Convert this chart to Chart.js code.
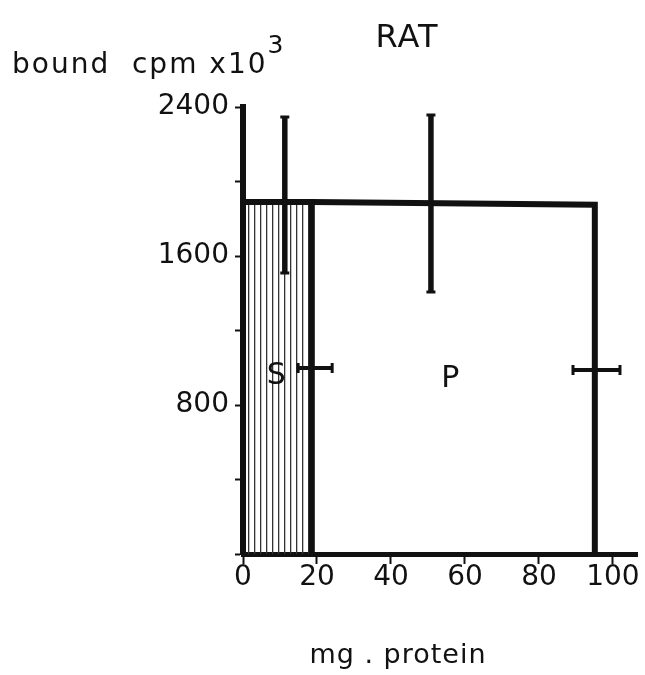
<!DOCTYPE html>
<html>
<head>
<meta charset="utf-8">
<script src="https://cdn.jsdelivr.net/npm/chart.js@4.4.1/dist/chart.umd.min.js"></script>
<style>
  html, body { margin: 0; padding: 0; background: #fff; }
  #chart { display: block; }
</style>
</head>
<body>
<canvas id="chart" width="645" height="675"></canvas>
<script>
// ── Data ──
const xTicks = [0, 20, 40, 60, 80, 100];
const yTicks = [0, 400, 800, 1200, 1600, 2000, 2400];
const yTickLabels = ['', '', '800', '', '1600', '', '2400'];

// fractions (rectangles): S = supernatant, P = pellet
const fractionNames = ['S', 'P'];
const fractionStart = [0, 18.6];
const fractionEnd = [18.6, 95.1];
const fractionTopStart = [1890, 1890];
const fractionTopEnd = [1890, 1875];
const fractionLabelX = [9, 56];
const fractionLabelY = [955, 940];

// vertical error bars (bound cpm)
const vErrX = [11.3, 50.8];
const vErrLow = [1509, 1407];
const vErrHigh = [2346, 2357];

// horizontal error bars (mg protein)
const hErrY = [999, 988];
const hErrLow = [14.9, 89.2];
const hErrHigh = [24.1, 101.9];

const INK = '#111';
const FONT = '"DejaVu Sans", sans-serif';

// vertical hatching for the S fraction
function makeHatch() {
    const pc = document.createElement('canvas');
    pc.width = 6;
    pc.height = 8;
    const c = pc.getContext('2d');
    c.fillStyle = '#333';
    c.fillRect(2, 0, 1.3, 8);
    return document.getElementById('chart').getContext('2d').createPattern(pc, 'repeat');
}

function rectPoints(i) {
    const pts = [];
    if (i === 0) pts.push({ x: fractionStart[i], y: 0 });
    pts.push({ x: fractionStart[i], y: fractionTopStart[i] });
    pts.push({ x: fractionEnd[i], y: fractionTopEnd[i] });
    pts.push({ x: fractionEnd[i], y: 0 });
    return pts;
}

// ── Error bars + annotations ──
const figurePlugin = {
    id: 'figure',
    afterDatasetsDraw(chart) {
        const { ctx, scales: { x, y } } = chart;
        ctx.save();
        ctx.strokeStyle = INK;
        ctx.lineCap = 'butt';

        vErrX.forEach((xv, i) => {
            const px = x.getPixelForValue(xv);
            const top = y.getPixelForValue(vErrHigh[i]);
            const bot = y.getPixelForValue(vErrLow[i]);
            ctx.lineWidth = 5.5;
            ctx.beginPath();
            ctx.moveTo(px, top);
            ctx.lineTo(px, bot);
            ctx.stroke();
            ctx.lineWidth = 3;
            ctx.beginPath();
            ctx.moveTo(px - 4.5, top); ctx.lineTo(px + 4.5, top);
            ctx.moveTo(px - 4.5, bot); ctx.lineTo(px + 4.5, bot);
            ctx.stroke();
        });

        hErrY.forEach((yv, i) => {
            const py = y.getPixelForValue(yv);
            const l = x.getPixelForValue(hErrLow[i]);
            const r = x.getPixelForValue(hErrHigh[i]);
            ctx.lineWidth = 4;
            ctx.beginPath();
            ctx.moveTo(l, py);
            ctx.lineTo(r, py);
            ctx.stroke();
            ctx.lineWidth = 3;
            ctx.beginPath();
            ctx.moveTo(l, py - 5); ctx.lineTo(l, py + 5);
            ctx.moveTo(r, py - 5); ctx.lineTo(r, py + 5);
            ctx.stroke();
        });

        ctx.fillStyle = INK;
        ctx.textBaseline = 'middle';
        ctx.textAlign = 'center';
        ctx.font = '30px ' + FONT;
        fractionNames.forEach((n, i) => {
            ctx.fillText(n, x.getPixelForValue(fractionLabelX[i]), y.getPixelForValue(fractionLabelY[i]));
        });
        ctx.restore();
    },
    afterDraw(chart) {
        const { ctx } = chart;
        ctx.save();
        ctx.fillStyle = INK;
        ctx.textBaseline = 'alphabetic';

        ctx.textAlign = 'center';
        ctx.font = '32px ' + FONT;
        ctx.letterSpacing = '1px';
        ctx.fillText('RAT', 407, 47);

        ctx.textAlign = 'left';
        ctx.font = '28px ' + FONT;
        ctx.letterSpacing = '2px';
        const yTitle = 'bound  cpm x10';
        ctx.fillText(yTitle, 12, 73);
        const w = ctx.measureText(yTitle).width;
        ctx.font = '25px ' + FONT;
        ctx.letterSpacing = '0px';
        ctx.fillText('3', 12 + w, 53);

        ctx.textAlign = 'center';
        ctx.font = '27px ' + FONT;
        ctx.letterSpacing = '1px';
        ctx.fillText('mg . protein', 398, 663);
        ctx.restore();
    }
};

const hatch = makeHatch();

new Chart(document.getElementById('chart'), {
    type: 'scatter',
    data: {
        datasets: fractionNames.map((n, i) => ({
            label: n,
            data: rectPoints(i),
            showLine: true,
            borderColor: INK,
            borderWidth: 6,
            pointRadius: 0,
            tension: 0,
            fill: i === 0 ? 'origin' : false,
            backgroundColor: i === 0 ? hatch : 'transparent'
        }))
    },
    options: {
        responsive: false,
        animation: false,
        devicePixelRatio: 1,
        layout: { padding: { left: 0, top: 107, right: 8, bottom: 0 } },
        plugins: { legend: { display: false }, tooltip: { enabled: false } },
        scales: {
            x: {
                type: 'linear',
                min: 0,
                max: 106.5,
                afterFit: (s) => { s.height = 121; },
                afterBuildTicks: (s) => { s.ticks = xTicks.map(v => ({ value: v })); },
                grid: { drawOnChartArea: false, tickLength: 10, tickColor: INK, tickWidth: 2 },
                border: { display: true, color: INK, width: 5 },
                ticks: {
                    color: INK,
                    padding: 0,
                    maxRotation: 0,
                    font: { family: FONT, size: 28, lineHeight: 1 },
                    callback: (v) => v
                }
            },
            y: {
                type: 'linear',
                min: 0,
                max: 2400,
                afterFit: (s) => { s.width = 243; },
                afterBuildTicks: (s) => { s.ticks = yTicks.map(v => ({ value: v })); },
                grid: { drawOnChartArea: false, tickLength: 8, tickColor: INK, tickWidth: 2 },
                border: { display: true, color: INK, width: 6 },
                ticks: {
                    color: INK,
                    padding: 6,
                    font: { family: FONT, size: 28, lineHeight: 1 },
                    callback: (v) => yTickLabels[yTicks.indexOf(v)]
                }
            }
        }
    },
    plugins: [figurePlugin]
});
</script>
</body>
</html>
